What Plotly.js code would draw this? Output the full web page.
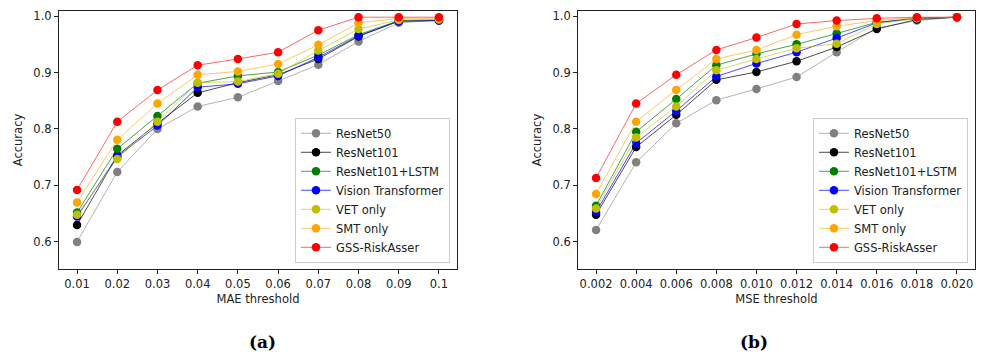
<!DOCTYPE html>
<html>
<head>
<meta charset="utf-8">
<script src="https://cdn.plot.ly/plotly-3.0.1.min.js"></script>
<style>html,body{margin:0;padding:0;background:#fff;}#chart{width:981px;height:359px;}</style>
</head>
<body>
<div id="chart"></div>
<script>
// ---- Data ----
const seriesNames = ["ResNet50", "ResNet101", "ResNet101+LSTM", "Vision Transformer", "VET only", "SMT only", "GSS-RiskAsser"];
const seriesColors = ["#808080", "#000000", "#008000", "#0000ff", "#bfbf00", "#ffa500", "#ff0000"];
const seriesLineColors = ["rgba(128,128,128,0.6)", "rgba(0,0,0,0.7)", "rgba(0,128,0,0.7)", "rgba(0,0,255,0.7)", "rgba(191,191,0,0.6)", "rgba(255,165,0,0.6)", "rgba(255,0,0,0.6)"];

const maeThresholds = [0.01, 0.02, 0.03, 0.04, 0.05, 0.06, 0.07, 0.08, 0.09, 0.1];
const maeTickLabels = ["0.01", "0.02", "0.03", "0.04", "0.05", "0.06", "0.07", "0.08", "0.09", "0.1"];
const maeResNet50   = [0.600, 0.724, 0.800, 0.840, 0.856, 0.885, 0.914, 0.955, 0.988, 0.993];
const maeResNet101  = [0.630, 0.753, 0.810, 0.864, 0.882, 0.896, 0.924, 0.964, 0.991, 0.992];
const maeLSTM       = [0.652, 0.765, 0.823, 0.881, 0.894, 0.901, 0.931, 0.967, 0.992, 0.993];
const maeViT        = [0.645, 0.751, 0.806, 0.874, 0.880, 0.894, 0.927, 0.965, 0.991, 0.992];
const maeVET        = [0.648, 0.747, 0.813, 0.882, 0.884, 0.898, 0.939, 0.977, 0.993, 0.994];
const maeSMT        = [0.670, 0.781, 0.845, 0.896, 0.902, 0.915, 0.949, 0.988, 0.996, 0.996];
const maeGSS        = [0.692, 0.813, 0.869, 0.913, 0.924, 0.936, 0.975, 0.998, 0.998, 0.998];

const mseThresholds = [0.002, 0.004, 0.006, 0.008, 0.010, 0.012, 0.014, 0.016, 0.018, 0.020];
const mseTickLabels = ["0.002", "0.004", "0.006", "0.008", "0.010", "0.012", "0.014", "0.016", "0.018", "0.020"];
const mseResNet50   = [0.621, 0.741, 0.810, 0.851, 0.871, 0.892, 0.936, 0.979, 0.992, 0.998];
const mseResNet101  = [0.648, 0.768, 0.825, 0.887, 0.901, 0.920, 0.945, 0.977, 0.994, 0.998];
const mseLSTM       = [0.664, 0.795, 0.853, 0.913, 0.933, 0.950, 0.969, 0.989, 0.996, 0.998];
const mseViT        = [0.653, 0.775, 0.832, 0.893, 0.916, 0.936, 0.961, 0.988, 0.996, 0.998];
const mseVET        = [0.659, 0.785, 0.840, 0.904, 0.924, 0.943, 0.951, 0.986, 0.996, 0.998];
const mseSMT        = [0.685, 0.813, 0.869, 0.924, 0.940, 0.967, 0.982, 0.992, 0.997, 0.998];
const mseGSS        = [0.713, 0.845, 0.896, 0.940, 0.962, 0.986, 0.992, 0.996, 0.998, 0.998];

const maeSeries = [maeResNet50, maeResNet101, maeLSTM, maeViT, maeVET, maeSMT, maeGSS];
const mseSeries = [mseResNet50, mseResNet101, mseLSTM, mseViT, mseVET, mseSMT, mseGSS];

// ---- Traces ----
const FONT = "DejaVu Sans, sans-serif";
const FS = 11.5;
const traces = [];
maeSeries.forEach((ys, i) => {
  traces.push({
    x: maeThresholds, y: ys, name: seriesNames[i], type: "scatter", mode: "lines+markers",
    xaxis: "x", yaxis: "y", legend: "legend",
    line: {color: seriesLineColors[i], width: 1},
    marker: {color: seriesColors[i], size: 8.5}
  });
});
mseSeries.forEach((ys, i) => {
  traces.push({
    x: mseThresholds, y: ys, name: seriesNames[i], type: "scatter", mode: "lines+markers",
    xaxis: "x2", yaxis: "y2", legend: "legend2",
    line: {color: seriesLineColors[i], width: 1},
    marker: {color: seriesColors[i], size: 8.5}
  });
});

const axisCommon = {
  showline: true, mirror: true, linecolor: "#222", linewidth: 1,
  ticks: "outside", ticklen: 4, tickwidth: 1, tickcolor: "#222",
  showgrid: false, zeroline: false,
  tickfont: {family: FONT, size: FS, color: "#222"}
};
const yTicks = [0.6, 0.7, 0.8, 0.9, 1.0];
const yTickText = ["0.6", "0.7", "0.8", "0.9", "1.0"];
const legendCommon = {
  bgcolor: "rgba(255,255,255,0.8)", bordercolor: "#ccc", borderwidth: 1,
  font: {family: FONT, size: FS, color: "#222"},
  xanchor: "right", yanchor: "bottom", tracegroupgap: 0, itemwidth: 30
};

const layout = {
  width: 981, height: 359,
  margin: {l: 0, r: 0, t: 0, b: 0},
  paper_bgcolor: "#fff", plot_bgcolor: "#fff",
  font: {family: FONT, color: "#222"},
  xaxis: Object.assign({}, axisCommon, {
    domain: [0.0601, 0.4659], range: [0.0055, 0.1045],
    tickvals: maeThresholds, ticktext: maeTickLabels, anchor: "y",
    title: {text: "MAE threshold", font: {family: FONT, size: FS, color: "#222"}, standoff: 5}
  }),
  yaxis: Object.assign({}, axisCommon, {
    domain: [0.2507, 0.9694], range: [0.552, 1.009], anchor: "x",
    tickvals: yTicks, ticktext: yTickText,
    title: {text: "Accuracy", font: {family: FONT, size: FS, color: "#222"}, standoff: 8}
  }),
  xaxis2: Object.assign({}, axisCommon, {
    domain: [0.5892, 0.9939], range: [0.0011, 0.0209],
    tickvals: mseThresholds, ticktext: mseTickLabels, anchor: "y2",
    title: {text: "MSE threshold", font: {family: FONT, size: FS, color: "#222"}, standoff: 5}
  }),
  yaxis2: Object.assign({}, axisCommon, {
    domain: [0.2507, 0.9694], range: [0.552, 1.009], anchor: "x2",
    tickvals: yTicks, ticktext: yTickText,
    title: {text: "Accuracy", font: {family: FONT, size: FS, color: "#222"}, standoff: 8}
  }),
  legend: Object.assign({}, legendCommon, {x: 0.4587, y: 0.268}),
  legend2: Object.assign({}, legendCommon, {x: 0.9867, y: 0.268}),
  annotations: [
    {text: "<b>(a)</b>", xref: "paper", yref: "paper", x: 0.2518, y: 0.015, showarrow: false,
     font: {family: "DejaVu Serif, serif", size: 17, color: "#000"}},
    {text: "<b>(b)</b>", xref: "paper", yref: "paper", x: 0.7849, y: 0.015, showarrow: false,
     font: {family: "DejaVu Serif, serif", size: 17, color: "#000"}}
  ],
  showlegend: true
};

Plotly.newPlot("chart", traces, layout, {displayModeBar: false, staticPlot: true});
</script>
</body>
</html>
